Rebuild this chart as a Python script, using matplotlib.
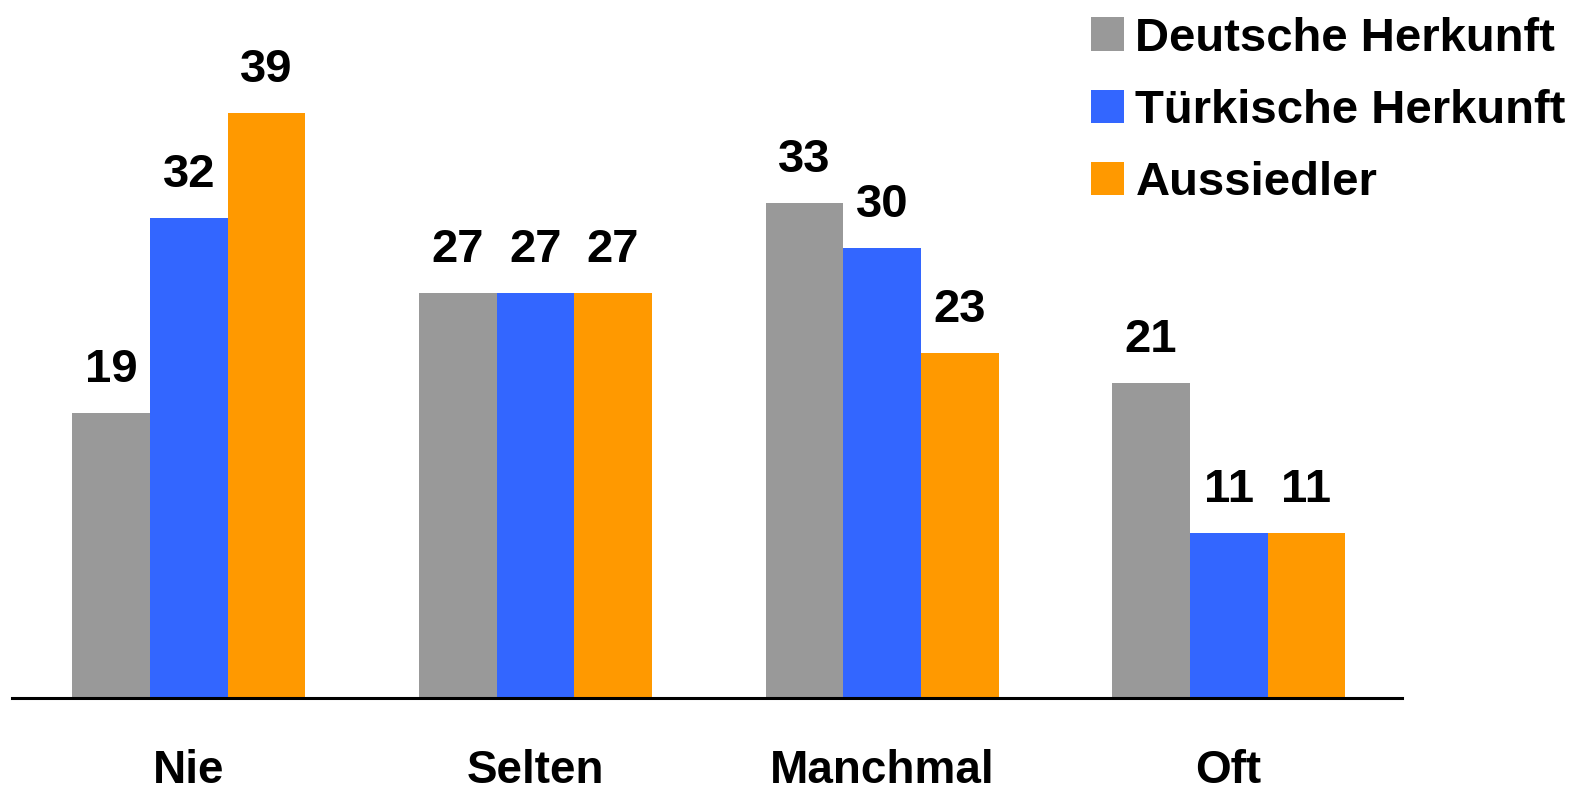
import matplotlib
matplotlib.use("Agg")
import matplotlib.pyplot as plt
import numpy as np

plt.rcParams['font.family'] = ['Liberation Sans', 'DejaVu Sans']
plt.rcParams['font.weight'] = 'bold'

#data
categories = ['Nie', 'Selten', 'Manchmal', 'Oft']
series_names = ['Deutsche Herkunft', 'Türkische Herkunft', 'Aussiedler']
deutsche = [19, 27, 33, 21]
tuerkische = [32, 27, 30, 11]
aussiedler = [39, 27, 23, 11]
colors = ['#999999', '#3366ff', '#ff9900']

#%%
fig = plt.figure(figsize=(15.76, 7.95), dpi=100)
ax = fig.add_axes([12/1576, 97/795, 1390/1576, 698/795])

x = np.arange(len(categories))
w = 0.224
for i, vals in enumerate([deutsche, tuerkische, aussiedler]):
    pos = x + (i - 1) * w
    bars = ax.bar(pos, vals, width=w, color=colors[i], label=series_names[i])
    for b, v in zip(bars, vals):
        ax.annotate(str(v), (b.get_x() + b.get_width()/2, v), xytext=(0, 15),
                    textcoords='offset points', ha='center', va='bottom',
                    fontsize=34, fontweight='bold')

ax.set_xlim(-0.51, 3.5)
ax.set_ylim(0, 46.53)
for s in ['top', 'left', 'right']:
    ax.spines[s].set_visible(False)
ax.spines['bottom'].set_linewidth(2.2)
ax.set_yticks([])
ax.set_xticks(x)
ax.set_xticklabels(categories, fontsize=33, fontweight='bold')
ax.tick_params(axis='x', length=0, pad=37)

leg = fig.legend(loc='upper left', bbox_to_anchor=(1074/1576, 1.0), frameon=False,
                 fontsize=34, handlelength=0.7, handleheight=0.7,
                 handletextpad=0.25, labelspacing=0.6, borderaxespad=0, borderpad=0.35)

plt.savefig("out.png", dpi=100)
